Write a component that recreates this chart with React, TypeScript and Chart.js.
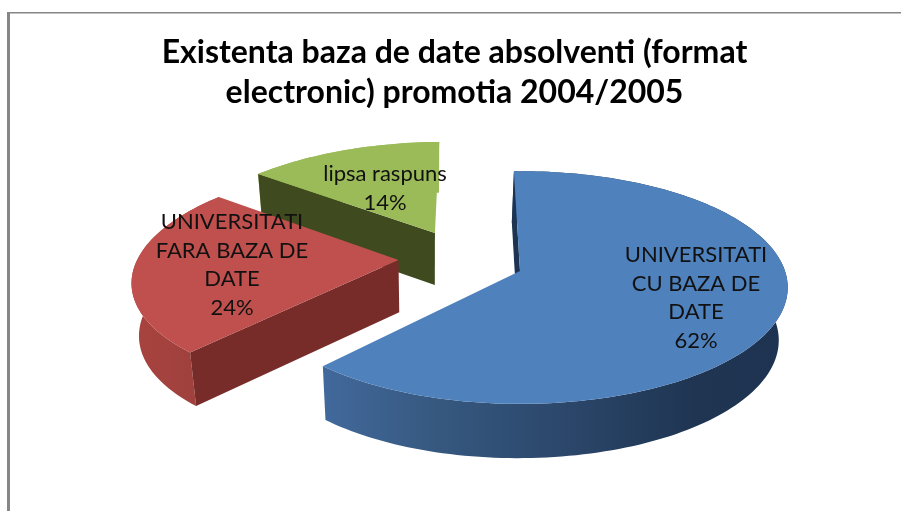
import React, { useEffect, useRef } from "react";
import { Chart, registerables } from "chart.js";

Chart.register(...registerables);

const titleLines = ["Existenta baza de date absolventi (format", "electronic) promotia 2004/2005"];
const categories = [
  ["UNIVERSITATI", "CU BAZA DE", "DATE"],
  ["UNIVERSITATI", "FARA BAZA DE", "DATE"],
  ["lipsa raspuns"],
];
const shares = [62, 24, 14];
const topColors = ["#4f81bd", "#c0504d", "#9bbb59"];

// View of the tilted pie
const explode = [[0, 0], [-0.465, -0.098], [-0.337, -0.35]];
const labelCentres = [[696, 255], [232, 222], [385, 174]];
const cutColors = ["#1d3351", "#772c2a", "#3f4a1f"];
const wallStops = [
  [[0, "#42699c"], [0.25, "#36587f"], [0.55, "#2a4568"], [0.8, "#1f3552"], [1, "#1d3351"]],
  [[0, "#a8433f"], [1, "#9c403d"]],
  [[0, "#9bbb59"], [1, "#9bbb59"]],
];
const CX = 520, CY = 271, RX = 265, RY = 114, K = 0.142;
const VX = 430, SHRINK = 0.975, DEPTH = 52;

function project(X: number, Y: number) {
  const w = 1 / (1 - K * Y);
  return [CX + RX * X * w, CY + RY * Y * w];
}
function lower(p: number[]) {
  return [VX + (p[0] - VX) * SHRINK, p[1] + DEPTH + (p[1] - 230) * 0.013];
}
function poly(ctx: CanvasRenderingContext2D, pts: number[][]) {
  ctx.beginPath();
  pts.forEach((p, i) => (i ? ctx.lineTo(p[0], p[1]) : ctx.moveTo(p[0], p[1])));
  ctx.closePath();
}

const pie3d = {
  id: "pie3d",
  beforeDraw(chart: any) {
    const { ctx } = chart;
    ctx.save();
    ctx.fillStyle = "#ffffff";
    ctx.fillRect(0, 0, chart.width, chart.height);
    ctx.fillStyle = "#868686";
    ctx.fillRect(7, 12, chart.width - 7, 1.5);
    ctx.fillRect(7, 12, 3, chart.height - 12);
    ctx.restore();
  },
  beforeDatasetDraw(chart: any, args: any) {
    const { ctx } = chart;
    const arcs = args.meta.data;
    const order = arcs.map((_: any, i: number) => i).sort((a: number, b: number) => explode[a][1] - explode[b][1]);
    ctx.save();
    for (const i of order) {
      const arc = arcs[i];
      const [ox, oy] = explode[i];
      const steps = Math.max(8, Math.round((arc.endAngle - arc.startAngle) * 40));
      const rim: number[][] = [];
      for (let s = 0; s <= steps; s++) {
        const a = arc.startAngle + ((arc.endAngle - arc.startAngle) * s) / steps;
        rim.push(project(ox + Math.cos(a), oy + Math.sin(a)));
      }
      const apex = project(ox, oy);
      const first = rim[0];

      // outer wall
      const xs = rim.map((p) => p[0]);
      const g = ctx.createLinearGradient(Math.min(...xs), 0, Math.max(...xs), 0);
      wallStops[i].forEach((st: any) => g.addColorStop(st[0], st[1]));
      ctx.fillStyle = g;
      poly(ctx, [...rim, ...rim.map(lower).reverse()]);
      ctx.fill();

      // the cut face that looks towards the viewer
      ctx.fillStyle = cutColors[i];
      poly(ctx, [apex, first, lower(first), lower(apex)]);
      ctx.fill();

      // top surface
      ctx.fillStyle = arc.options.backgroundColor;
      poly(ctx, [apex, ...rim]);
      ctx.fill();
    }
    // labels
    ctx.fillStyle = "#111111";
    ctx.font = "22px Lato";
    ctx.textAlign = "center";
    ctx.textBaseline = "middle";
    arcs.forEach((_: any, i: number) => {
      const lines = [...categories[i], shares[i] + "%"];
      lines.forEach((t, j) => ctx.fillText(t, labelCentres[i][0], labelCentres[i][1] + j * 28.5));
    });
    ctx.restore();
    return false;
  },
};

export default function App() {
  const ref = useRef<HTMLCanvasElement>(null);
  useEffect(() => {
    document.body.style.margin = "0";
    const chart = new Chart(ref.current!, {
      type: "pie",
      data: {
        labels: categories as any,
        datasets: [{ data: shares, backgroundColor: topColors, borderWidth: 0 }],
      },
      options: {
        responsive: false,
        animation: false,
        rotation: -1.5,
        layout: { padding: { left: 8 } },
        plugins: {
          legend: { display: false },
          tooltip: { enabled: false },
          title: {
            display: true,
            text: titleLines,
            color: "#000000",
            font: { family: "Lato", size: 32, weight: "bold", lineHeight: 1.25 },
            padding: { top: 33, bottom: 10 },
          },
        },
      },
      plugins: [pie3d],
    } as any);
    return () => chart.destroy();
  }, []);
  return (
    <div style={{ position: "absolute", left: 0, top: 0, width: 901, height: 511 }}>
      <canvas ref={ref} width={901} height={511} style={{ display: "block" }} />
    </div>
  );
}
